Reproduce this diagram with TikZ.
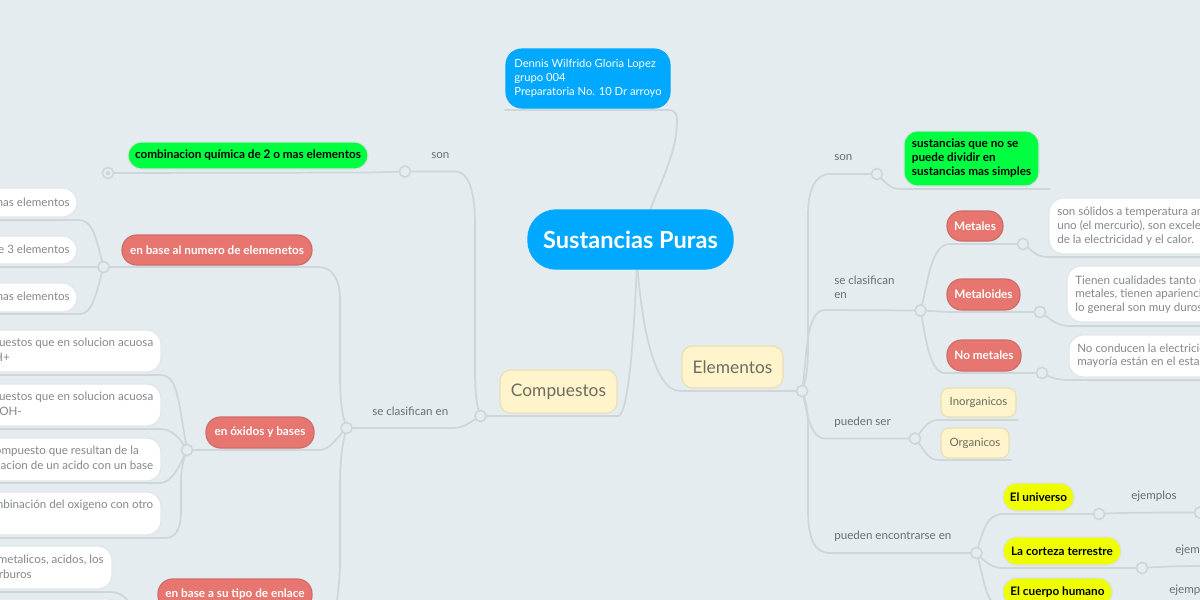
\documentclass[tikz,border=0pt]{standalone}
\usepackage{fontspec}
\setmainfont{Lato}
\usetikzlibrary{backgrounds}
\definecolor{bgc}{HTML}{E4ECF0}
\definecolor{linec}{HTML}{CFD6DA}
\definecolor{lblc}{HTML}{6A6E72}
\definecolor{whtxt}{HTML}{85888C}
\definecolor{redf}{HTML}{E6766F}
\definecolor{redd}{HTML}{CF6C68}
\definecolor{creamf}{HTML}{FFF4CC}
\definecolor{creamd}{HTML}{E8DFB5}
\definecolor{creamt}{HTML}{6E6C60}
\definecolor{limef}{HTML}{00FF40}
\definecolor{yelf}{HTML}{F0FF00}
\definecolor{bluef}{HTML}{00A8FF}
\newcommand{\pxbox}[7]{%
  \pgfmathsetmacro{\bcx}{(#3+#5)/2}\pgfmathsetmacro{\bcy}{(#4+#6)/2}%
  \pgfmathsetmacro{\bw}{(#5-#3)*0.75}\pgfmathsetmacro{\bh}{(#6-#4)*0.75}%
  \node[#1,minimum width=\bw pt,minimum height=\bh pt] (#2) at (\bcx,\bcy) {#7};}
\tikzset{
  x=0.75pt,y=-0.75pt,
  basebox/.style={rectangle,inner sep=0pt,outer sep=0pt,line width=0.9pt},
  centralbox/.style={basebox,rounded corners=21pt,fill=bluef,draw=bluef,text=white,font=\fontsize{17.7}{20}\selectfont\bfseries},
  bluebox/.style={basebox,rounded corners=12pt,fill=bluef,draw=bluef,text=white,align=left,font=\fontsize{8.4}{10.5}\selectfont},
  creambig/.style={basebox,rounded corners=8pt,fill=creamf,draw=creamd,text=creamt,font=\fontsize{13}{15}\selectfont},
  creamsmall/.style={basebox,rounded corners=6pt,fill=creamf,draw=creamd,text=creamt,font=\fontsize{8.6}{10.5}\selectfont},
  redbox/.style={basebox,rounded corners=11pt,fill=redf,draw=redd,text=white,font=\fontsize{8.8}{10.5}\selectfont\bfseries},
  limebox/.style={basebox,rounded corners=10pt,fill=limef,draw=linec!70,text=black,align=left,font=\fontsize{8.8}{10.5}\selectfont\bfseries},
  yelbox/.style={basebox,rounded corners=10pt,fill=yelf,draw=linec!70,text=black,font=\fontsize{8.8}{10.5}\selectfont\bfseries},
  whitebox/.style={basebox,rounded corners=11pt,fill=white,draw=linec!60},
  hub/.style={circle,inner sep=0pt,minimum size=8.4pt,fill=bgc,draw=linec,line width=1.2pt},
  lbl/.style={inner sep=0pt,text=lblc,align=left,anchor=west,font=\fontsize{8.7}{10.5}\selectfont},
  wtl/.style={inner sep=0pt,text=whtxt,anchor=west,font=\fontsize{8.7}{10.5}\selectfont},
  wtr/.style={inner sep=0pt,text=whtxt,anchor=east,font=\fontsize{8.7}{10.5}\selectfont},
  conn/.style={draw=linec,line width=1.3pt,line cap=round},
}
\begin{document}
\begin{tikzpicture}
\useasboundingbox (0,0) rectangle (1200,600);
\clip (0,0) rectangle (1200,600);
% central and top
\pxbox{centralbox}{root}{528}{210}{733}{269}{Sustancias Puras}
\pxbox{bluebox}{author}{506}{49}{670}{108}{Dennis Wilfrido Gloria Lopez\\grupo 004\\Preparatoria No. 10 Dr arroyo}
\pxbox{creambig}{comp}{500}{370}{617}{413}{Compuestos}
\pxbox{creambig}{elem}{682}{346}{783}{388}{Elementos}
% left side
\pxbox{limebox}{combi}{128}{142}{368}{169}{combinacion química de 2 o mas elementos}
\pxbox{redbox}{rnum}{122}{235}{312}{265}{en base al numero de elemenetos}
\pxbox{redbox}{roxi}{206}{417}{314}{448}{en óxidos y bases}
\pxbox{redbox}{renl}{158}{579}{312}{610}{}
\node[inner sep=0pt,text=white,font=\fontsize{8.8}{10.5}\selectfont\bfseries] (renlt) at (235,594) {en base a su tipo de enlace};
\pxbox{whitebox}{w1}{-40}{188}{77}{217}{}
\pxbox{whitebox}{w2}{-40}{236}{77}{264}{}
\pxbox{whitebox}{w3}{-40}{283}{77}{312}{}
\pxbox{whitebox}{w4}{-40}{330}{161}{372}{}
\pxbox{whitebox}{w5}{-40}{384}{161}{426}{}
\pxbox{whitebox}{w6}{-40}{438}{161}{481}{}
\pxbox{whitebox}{w7}{-40}{492}{161}{535}{}
\pxbox{whitebox}{w8}{-40}{546}{112}{589}{}
\pxbox{whitebox}{w9}{-40}{599}{122}{640}{}
\node[wtr] (t1) at (70,202) {mas elementos};
\node[wtr] (t2) at (70,249.5) {e 3 elementos};
\node[wtr] (t3) at (70,296.5) {mas elementos};
\node[wtr] (t4a) at (153.5,343.5) {uestos que en solucion acuosa};
\node[wtr] (t4b) at (10,357.5) {H+};
\node[wtr] (t5a) at (153.5,397.5) {uestos que en solucion acuosa};
\node[wtr] (t5b) at (22,411.5) {OH-};
\node[wtr] (t6a) at (139,451.5) {ompuesto que resultan de la};
\node[wtr] (t6b) at (153.5,465.5) {acion de un acido con un base};
\node[wtr] (t7) at (153.5,505.5) {mbinación del oxigeno con otro};
\node[wtr] (t8a) at (104,560) {metalicos, acidos, los};
\node[wtr] (t8b) at (32,574) {rburos};
\node[lbl] (lson) at (431,155.5) {son};
\node[lbl] (lclas) at (372,411.5) {se clasifican en};
% right side
\pxbox{limebox}{sust}{904}{131}{1039}{186}{sustancias que no se\\puede dividir en\\sustancias mas simples}
\pxbox{redbox}{rmet}{947}{211}{1003}{241}{Metales}
\pxbox{redbox}{rmtd}{947}{279}{1020}{310}{Metaloides}
\pxbox{redbox}{rnom}{947}{340}{1021}{371}{No metales}
\pxbox{creamsmall}{inor}{941}{388}{1016}{417}{Inorganicos}
\pxbox{creamsmall}{orga}{941}{428}{1009}{458}{Organicos}
\pxbox{yelbox}{univ}{1003}{483}{1074}{511}{El universo}
\pxbox{yelbox}{cort}{1003}{537}{1121}{565}{La corteza terrestre}
\pxbox{yelbox}{cuer}{1003}{578}{1112}{606}{El cuerpo humano}
\pxbox{whitebox}{d1}{1049}{198}{1260}{254}{}
\pxbox{whitebox}{d2}{1067}{266}{1260}{322}{}
\pxbox{whitebox}{d3}{1069}{335}{1260}{377}{}
\node[wtl] (d1a) at (1057,212) {son sólidos a temperatura am};
\node[wtl] (d1b) at (1057,226) {uno (el mercurio), son excelen};
\node[wtl] (d1c) at (1057,240) {de la electricidad y el calor.};
\node[wtl] (d2a) at (1075,280) {Tienen cualidades tanto de};
\node[wtl] (d2b) at (1075,294) {metales, tienen apariencia};
\node[wtl] (d2c) at (1075,308) {lo general son muy duros};
\node[wtl] (d3a) at (1077,348) {No conducen la electricid};
\node[wtl] (d3b) at (1077,362) {mayoría están en el estado};
\node[lbl] (rson) at (834,157.5) {son};
\node[lbl] (rclas) at (834,287) {se clasifican\\en};
\node[lbl] (rpue) at (834,422.5) {pueden ser};
\node[lbl] (renc) at (834,536.5) {pueden encontrarse en};
\node[lbl] (ej1) at (1131,496.5) {ejemplos};
\node[lbl] (ej2) at (1175,550.5) {ejemplos};
\node[lbl] (ej3) at (1169,590.5) {ejemplos};
% hubs
\node[hub] (hcombi) at (108,173) {};
\node[circle,inner sep=0pt,minimum size=3.4pt,fill=linec] (hcombid) at (108,173) {};
\node[hub] (hson) at (405,171.5) {};
\node[hub] (hnum) at (103.5,267) {};
\node[hub] (hoxi) at (187,450) {};
\node[hub] (hclas) at (346.5,428) {};
\node[hub] (hcomp) at (480.5,416) {};
\node[hub] (helem) at (802,391) {};
\node[hub] (hrson) at (877,174) {};
\node[hub] (hrclas) at (920.5,310.5) {};
\node[hub] (hmet) at (1023,244) {};
\node[hub] (hmtd) at (1040,312) {};
\node[hub] (hnom) at (1042,373) {};
\node[hub] (hpue) at (915,438.5) {};
\node[hub] (henc) at (976.5,553) {};
\node[hub] (huni) at (1099,514) {};
\node[hub] (hcor) at (1142,568) {};
\node[hub] (hend) at (1200,512.5) {};
% free ends
\coordinate (e1) at (0,220); \coordinate (e2) at (0,267); \coordinate (e3) at (0,314);
\coordinate (e4) at (0,375); \coordinate (e5) at (0,429); \coordinate (e6) at (0,483);
\coordinate (e7) at (0,538); \coordinate (e8) at (0,592); \coordinate (e9) at (130,604);
\coordinate (ebot) at (337,602);
\coordinate (ea) at (505,110); \coordinate (es) at (1050,189);
\coordinate (em) at (1202,257); \coordinate (ed) at (1202,326); \coordinate (en) at (1202,380);
\coordinate (ei) at (1018,420); \coordinate (eo) at (1011,460);
\coordinate (ec) at (1202,566); \coordinate (eh) at (992,602);
\begin{scope}[on background layer]
\fill[bgc] (0,0) rectangle (1200,600);
\begin{scope}
\clip (0,0) rectangle (1200,600);
% top
\draw[conn] (ea) -- (668,110) .. controls (675,110) and (677,113) .. (677,122) .. controls (677,150) and (662,180) .. (650,210);
% root to compounds/elements
\draw[conn] (hcomp.center) -- (618,416) .. controls (628,416) and (634,340) .. (637,262);
\draw[conn] (637,262) .. controls (642,330) and (655,391) .. (680,391) -- (helem.center);
% left
\draw[conn] (hcombi.center) -- (368,172.5) -- (hson.center);
\draw[conn] (hson.center) -- (455,171.5) .. controls (470,171.5) and (475,195) .. (475,225) -- (475,370) .. controls (475,395) and (477,408) .. (hcomp.center);
\draw[conn] (hcomp.center) .. controls (470,422) and (465,428) .. (452,428) -- (hclas.center);
\draw[conn] (hclas.center) .. controls (342,415) and (340,400) .. (340,375) -- (340,300) .. controls (340,280) and (333,267) .. (318,267) -- (hnum.center);
\draw[conn] (hclas.center) .. controls (333,442) and (330,450) .. (318,450) -- (hoxi.center);
\draw[conn] (hclas.center) .. controls (342,445) and (340,460) .. (340,490) -- (340,560) .. controls (340,580) and (338,590) .. (ebot);
\draw[conn] (e1) -- (78,220) .. controls (92,220) and (95,233) .. (hnum.center);
\draw[conn] (e2) -- (hnum.center);
\draw[conn] (e3) -- (80,314) .. controls (92,314) and (96,295) .. (hnum.center);
\draw[conn] (e4) -- (160,375) .. controls (178,375) and (178,400) .. (hoxi.center);
\draw[conn] (e5) -- (160,429) .. controls (172,429) and (180,438) .. (hoxi.center);
\draw[conn] (e6) -- (160,483) .. controls (172,483) and (180,465) .. (hoxi.center);
\draw[conn] (e7) -- (165,538) .. controls (178,538) and (181,525) .. (181,510) -- (181,480) .. controls (181,468) and (184,458) .. (hoxi.center);
\draw[conn] (e8) -- (110,592) .. controls (120,592) and (126,597) .. (e9);
% right
\draw[conn] (helem.center) .. controls (806,380) and (808,370) .. (808,345) -- (808,215) .. controls (808,190) and (815,174) .. (830,174) -- (hrson.center);
\draw[conn] (hrson.center) .. controls (885,182) and (890,189) .. (900,189) -- (es);
\draw[conn] (helem.center) .. controls (807,360) and (805,310) .. (825,310) -- (hrclas.center);
\draw[conn] (hrclas.center) .. controls (928,285) and (930,244) .. (950,244) -- (hmet.center);
\draw[conn] (hmet.center) .. controls (1032,250) and (1035,257) .. (1048,257) -- (em);
\draw[conn] (hrclas.center) -- (950,312) -- (hmtd.center);
\draw[conn] (hmtd.center) .. controls (1050,318) and (1055,326) .. (1070,326) -- (ed);
\draw[conn] (hrclas.center) .. controls (926,340) and (930,373) .. (945,373) -- (hnom.center);
\draw[conn] (hnom.center) .. controls (1050,377) and (1055,380) .. (1070,380) -- (en);
\draw[conn] (helem.center) .. controls (808,415) and (810,438) .. (825,438.5) -- (hpue.center);
\draw[conn] (hpue.center) .. controls (923,430) and (927,420) .. (938,420) -- (ei);
\draw[conn] (hpue.center) .. controls (923,447) and (927,460) .. (938,460) -- (eo);
\draw[conn] (helem.center) .. controls (806,400) and (808,410) .. (808,430) -- (808,510) .. controls (808,540) and (815,553) .. (830,553) -- (henc.center);
\draw[conn] (henc.center) .. controls (983,530) and (987,514) .. (1003,514) -- (huni.center);
\draw[conn] (huni.center) .. controls (1110,513) and (1130,512.5) .. (hend.center);
\draw[conn] (henc.center) .. controls (985,562) and (992,568) .. (1003,568) -- (hcor.center);
\draw[conn] (hcor.center) .. controls (1155,567) and (1175,566) .. (ec);
\draw[conn] (henc.center) .. controls (982,570) and (984,592) .. (eh);
\end{scope}
\end{scope}
\end{tikzpicture}
\end{document}
